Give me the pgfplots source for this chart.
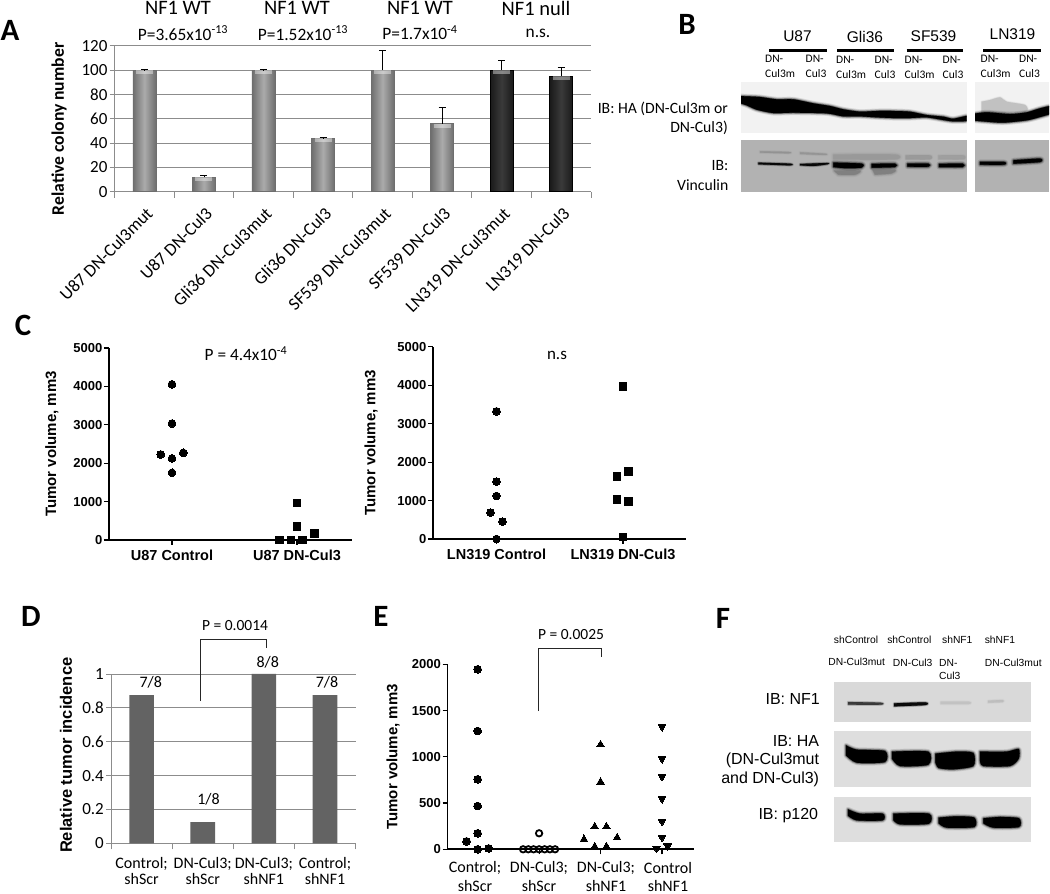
\documentclass[border=0pt]{standalone}
\usepackage{fontspec}
\usepackage{pgfplots}
\pgfplotsset{compat=1.18}
\setmainfont{Carlito}
\newfontfamily\lib{Liberation Sans}
\newcommand\fs[1]{\fontsize{#1}{#1}\selectfont}
\definecolor{gridg}{HTML}{8C8C8C}
\definecolor{barlight}{HTML}{ABABAB}
\definecolor{baredge}{HTML}{6E6E6E}
\definecolor{bardark}{HTML}{3A3A3A}
\definecolor{dbar}{HTML}{636363}
\newcommand\band[2][black]{%
 \addplot[fill=#1,draw=#1,line width=5pt,opacity=.10,line join=round,smooth,tension=.4] coordinates {#2} -- cycle;
 \addplot[fill=#1,draw=#1,line width=3.2pt,opacity=.2,line join=round,smooth,tension=.4] coordinates {#2} -- cycle;
 \addplot[fill=#1,draw=#1,line width=1.6pt,opacity=.4,line join=round,smooth,tension=.4] coordinates {#2} -- cycle;
 \addplot[fill=#1,draw=none,smooth,tension=.4] coordinates {#2} -- cycle;
}
\newcommand\tband[2][black]{%
 \addplot[fill=#1,draw=#1,line width=2.4pt,opacity=.15,line join=round,smooth,tension=.4] coordinates {#2} -- cycle;
 \addplot[fill=#1,draw=#1,line width=1.2pt,opacity=.3,line join=round,smooth,tension=.4] coordinates {#2} -- cycle;
 \addplot[fill=#1,draw=none,opacity=.9,smooth,tension=.4] coordinates {#2} -- cycle;
}
\newcommand\lightbar[1]{\addplot[ybar,bar width=23pt,left color=baredge,right color=baredge,middle color=barlight,draw=baredge,line width=.6pt] coordinates {#1};}
\newcommand\darkbar[1]{\addplot[ybar,bar width=23pt,left color=black!90,right color=black!90,middle color=bardark,draw=black,line width=.6pt] coordinates {#1};}
\pgfplotsset{
 every axis/.append style={scale only axis,anchor=south west},
 blot/.style={hide axis,y dir=reverse,axis background/.style={fill=#1}},
 common/.style={
  /pgf/number format/assume math mode=true,
  /pgf/number format/1000 sep={},
 },
 prism/.style={
  common,axis lines=left,axis line style={-,draw=gridg,line width=.8pt},
  ymajorgrids,grid style={draw=gridg,line width=.8pt},
  major tick style={draw=gridg,line width=.8pt},minor tick style={draw=gridg,line width=.8pt},
  major y tick style={draw=gridg,line width=.8pt},major x tick style={draw=none},
  tick align=outside,major tick length=5pt,minor tick length=6pt,
 },
 scat/.style={
  common,axis lines=left,axis line style={-,black,line width=1.6pt},clip=false,
  tick style={black,line width=1.1pt},tick align=outside,major tick length=5pt,
  yticklabel style={font=\lib\bfseries\fs{13},inner sep=1.5pt},
  xticklabel style={font=\lib\bfseries\fs{14.5},inner sep=1pt,yshift=-4pt},
 },
 dots/.style={only marks,mark=*,mark size=3.9pt,mark options={fill=black,draw=black,line width=0pt}},
 squares/.style={only marks,mark=square*,mark size=3.7pt,mark options={fill=black,draw=black,line width=0pt}},
}
\begin{document}
\begin{tikzpicture}[x=1pt,y=1pt]
\path[use as bounding box] (0,0) rectangle (1050,894);

%% Panel A
\begin{axis}[prism,at={(114.6pt,702.3pt)},width=476.4pt,height=146pt,
 xmin=.5,xmax=8.5,ymin=0,ymax=120,ytick={0,20,...,120},
 xtick={1,...,8},minor xtick={.5,1.5,...,8.5},
 xticklabels={U87 DN-Cul3mut,U87 DN-Cul3,Gli36 DN-Cul3mut,Gli36 DN-Cul3,SF539 DN-Cul3mut,SF539 DN-Cul3,LN319 DN-Cul3mut,LN319 DN-Cul3},
 x tick label style={font=\fs{17.8},rotate=45,anchor=north east,inner sep=1pt,xshift=-5pt,yshift=-6pt},
 y tick label style={font=\fs{17},inner sep=2pt},
 ylabel={Relative colony number},
 every axis y label/.style={at={(axis description cs:-.1167,.43)},rotate=90,anchor=center,font=\bfseries\fs{17.6}},
 clip=false]
 \lightbar{(1,100)}
 \lightbar{(2,12)}
 \lightbar{(3,100)}
 \lightbar{(4,44)}
 \lightbar{(5,100)}
 \lightbar{(6,56)}
 \darkbar{(7,100)}
 \darkbar{(8,95)}
 \addplot[draw=none,mark=none,error bars/.cd,y dir=minus,y fixed=3.5,error mark=none,
   error bar style={line width=17pt,draw=white,opacity=.4}]
   coordinates {(1,100)(2,12)(3,100)(4,44)(5,100)(6,56)(7,100)(8,95)};
 \addplot[draw=none,mark=none,error bars/.cd,y dir=plus,y explicit,error mark=-,
   error bar style={black,line width=.8pt},error mark options={rotate=90,black,line width=.8pt,mark size=3.5pt}]
   coordinates {(1,100)+-(0,.4)(2,12)+-(0,1)(3,100)+-(0,.4)(4,44)+-(0,.4)(5,100)+-(0,16)(6,56)+-(0,13)(7,100)+-(0,8)(8,95)+-(0,7)};
\end{axis}

%% Panel C left
\begin{axis}[scat,at={(109pt,354pt)},width=243pt,height=192pt,
 xmin=.496,xmax=2.44,ymin=0,ymax=5000,ytick={0,1000,...,5000},
 xtick={1,2},xticklabels={U87 Control,U87 DN-Cul3},
 ylabel={Tumor volume, mm3},
 every axis y label/.style={at={(axis description cs:-.235,.5)},rotate=90,anchor=center,font=\lib\bfseries\fs{15}}]
 \addplot[dots] coordinates {(1,4055)(1,3033)(.91,2227)(1,2123)(1.09,2270)(1,1750)};
 \addplot[squares] coordinates {(2,970)(2,347)(2.14,173)(1.86,0)(1.952,0)(2.044,0)};
\end{axis}

%% Panel C right
\begin{axis}[scat,at={(433pt,355pt)},width=253pt,height=192.3pt,
 xmin=.498,xmax=2.498,ymin=0,ymax=5000,ytick={0,1000,...,5000},
 xtick={1,2},xticklabels={LN319 Control,LN319 DN-Cul3},
 ylabel={Tumor volume, mm3},
 every axis y label/.style={at={(axis description cs:-.245,.5)},rotate=90,anchor=center,font=\lib\bfseries\fs{15}}]
 \addplot[dots] coordinates {(1,3319)(1,1490)(1,1118)(1,0)(.953,685)(1.047,450)};
 \addplot[squares] coordinates {(2,3960)(2,50)(1.953,1620)(2.044,1760)(1.953,1030)(2.044,970)};
\end{axis}

%% Panel D
\begin{axis}[prism,at={(111pt,50.7pt)},width=244.6pt,height=169.3pt,
 xmin=.5,xmax=4.5,ymin=0,ymax=1,ytick={0,.2,.4,.6,.8,1},
 xtick={1,...,4},minor xtick={.5,1.5,...,4.5},
 xticklabels={{Control;\\shScr},{DN-Cul3;\\shScr},{DN-Cul3;\\shNF1},{Control;\\shNF1}},
 x tick label style={font=\fs{16},align=center,anchor=north,yshift=-6pt},
 y tick label style={font=\fs{17},inner sep=2pt},
 ylabel={Relative tumor incidence},
 every axis y label/.style={at={(axis description cs:-.184,.52)},rotate=90,anchor=center,font=\lib\bfseries\fs{16.5}},
 clip=false]
 \addplot[ybar,bar width=24.6pt,fill=dbar,draw=none] coordinates {(1,.875)(2,.125)(3,1)(4,.875)};
\end{axis}

%% Panel E
\begin{axis}[scat,at={(447.5pt,44.7pt)},width=246.5pt,height=185pt,
 xmin=.51,xmax=4.52,ymin=0,ymax=2000,ytick={0,500,...,2000},
 xtick={1,2,3,4},xticklabels={},
 ylabel={Tumor volume, mm3},
 every axis y label/.style={at={(axis description cs:-.221,.5)},rotate=90,anchor=center,font=\lib\bfseries\fs{15}}]
 \addplot[dots] coordinates {(1,1946)(1,1279)(1,757)(1,468)(1,173)(1,0)(.82,86)(1.18,10)};
 \addplot[only marks,mark=o,mark size=3.2pt,mark options={draw=black,line width=1.8pt,fill=white}]
   coordinates {(2,173)(1.74,0)(1.825,0)(1.91,0)(2,0)(2.09,0)(2.175,0)(2.26,0)};
 \addplot[only marks,mark=triangle*,mark size=4.4pt,mark options={fill=black,draw=black,line width=0pt}]
   coordinates {(3,1131)(3,728)(2.905,245)(3.095,245)(2.73,108)(3.27,126)(2.905,29)(3.095,29)};
 \addplot[only marks,mark=triangle*,mark size=4.4pt,mark options={fill=black,draw=black,line width=0pt,rotate=180}]
   coordinates {(4,1326)(4,980)(4,786)(4,548)(4,303)(4,130)(3.91,11)(4.09,36)};
\end{axis}

%% Blots of panel B (axes in 3x crop units)
\begin{axis}[blot={black!5},at={(741pt,761.3pt)},width=225.67pt,height=51pt,xmin=543,xmax=1220,ymin=245,ymax=398]
 \band{(530,288)(560,289)(600,291)(650,298)(700,298)(760,310)(810,318)(850,328)(900,335)(950,333)(1000,333)(1050,335)(1100,345)(1150,350)(1180,356)(1230,346)(1230,362)(1180,364)(1150,360)(1100,352)(1050,354)(1000,354)(950,352)(900,349)(850,349)(800,340)(700,338)(640,339)(590,329)(560,316)(530,306)}
\end{axis}
\begin{axis}[blot={black!5},at={(975pt,761.3pt)},width=74pt,height=51pt,xmin=1245,xmax=1467,ymin=245,ymax=398]
 \tband[black!25]{(1265,305)(1290,300)(1320,292)(1340,305)(1395,315)(1395,335)(1265,340)}
 \band{(1235,342)(1280,337)(1350,342)(1400,337)(1440,325)(1480,317)(1480,338)(1440,351)(1400,361)(1330,368)(1280,365)(1235,361)}
\end{axis}
\begin{axis}[blot={black!30},at={(741pt,702.3pt)},width=225.67pt,height=51.4pt,xmin=543,xmax=1220,ymin=421,ymax=575]
 \band[black!40]{(820,464)(1005,464)(1005,478)(820,478)}
 \tband[black!40]{(1037,466)(1110,466)(1110,478)(1037,478)}
 \tband[black!38]{(1135,466)(1210,466)(1210,478)(1135,478)}
 \tband[black!43]{(600,454)(686,456)(686,460)(600,458)}
 \tband[black!42]{(720,457)(795,461)(795,465)(720,462)}
 \band[black!50]{(822,512)(900,512)(885,524)(835,524)}
 \band[black!50]{(938,510)(1005,510)(995,520)(945,524)}
 \tband{(595,488)(690,491)(690,496)(595,493)}
 \tband{(720,492)(802,489)(802,493)(760,498)(720,496)}
 \band{(820,488)(905,491)(905,503)(850,504)(820,501)}
 \band{(935,492)(1005,491)(1005,501)(935,503)}
 \band{(1042,491)(1105,491)(1105,500)(1042,500)}
 \band{(1137,492)(1208,491)(1208,501)(1137,501)}
\end{axis}
\begin{axis}[blot={black!30},at={(975pt,702.3pt)},width=74pt,height=51.4pt,xmin=1245,xmax=1467,ymin=421,ymax=575]
 \band{(1260,486)(1332,486)(1332,494)(1260,494)}
 \band{(1360,481)(1440,476)(1440,486)(1360,491)}
\end{axis}

%% Blots of panel F (axes in 3x crop units)
\begin{axis}[blot={black!15},at={(834pt,172.3pt)},width=196.67pt,height=39.33pt,xmin=402,xmax=992,ymin=217,ymax=335]
 \tband[black!24]{(722,275)(806,275)(806,282)(722,282)}
 \tband[black!26]{(864,272)(908,270)(908,276)(864,278)}
 \tband[black!80]{(444,276)(542,278)(542,284)(444,284)}
 \tband{(582,280)(676,277)(676,285)(582,289)}
\end{axis}
\begin{axis}[blot={black!13},at={(834pt,107pt)},width=196.67pt,height=56pt,xmin=402,xmax=992,ymin=362,ymax=530]
 \band{(438,405)(470,418)(555,422)(555,455)(470,457)(438,435)}
 \band{(576,424)(685,424)(685,463)(600,467)(576,445)}
 \band{(706,430)(770,424)(820,428)(820,467)(760,477)(716,473)(706,455)}
 \band{(840,424)(920,424)(956,416)(956,445)(930,467)(850,467)(840,450)}
\end{axis}
\begin{axis}[blot={black!13},at={(834pt,51.67pt)},width=196.67pt,height=45pt,xmin=402,xmax=992,ymin=562,ymax=697]
 \band{(444,598)(480,611)(548,611)(548,631)(470,631)(444,617)}
 \band{(580,611)(687,611)(687,641)(600,643)(580,630)}
 \band{(716,623)(770,619)(823,623)(823,651)(740,653)(716,640)}
 \band{(850,625)(900,621)(957,625)(957,651)(880,653)(850,640)}
\end{axis}

%% Text and brackets, in picture pixels
\begin{axis}[hide axis,at={(0pt,0pt)},width=1050pt,height=894pt,xmin=0,xmax=1050,ymin=0,ymax=894,y dir=reverse,clip=false,
 nodes={inner sep=0pt,anchor=center}]
 \node[font=\bfseries\fs{31}] at (axis cs:10,30) {A};
 \node[font=\bfseries\fs{31}] at (axis cs:687,24) {B};
 \node[font=\bfseries\fs{31}] at (axis cs:23,325) {C};
 \node[font=\bfseries\fs{31}] at (axis cs:31,616) {D};
 \node[font=\bfseries\fs{31}] at (axis cs:381,616) {E};
 \node[font=\bfseries\fs{31}] at (axis cs:723,618) {F};
 % Panel A headings
 \foreach \x/\t in {178/NF1 WT,297/NF1 WT,420/NF1 WT,536/NF1 null}
  {\edef\tmp{\noexpand\node[font=\noexpand\fs{20.5}] at (axis cs:\x,8) {\t};}\tmp}
 \node[font=\fs{17.4}] at (axis cs:183,33) {P=3.65x10\textsuperscript{-13}};
 \node[font=\fs{17.4}] at (axis cs:303,33) {P=1.52x10\textsuperscript{-13}};
 \node[font=\fs{17.4}] at (axis cs:420,33) {P=1.7x10\textsuperscript{-4}};
 \node[font=\fs{17.4}] at (axis cs:538,33) {n.s.};
 % Panel B labels
 \node[font=\lib\fs{15.5}] at (axis cs:797.5,36.5) {U87};
 \node[font=\lib\fs{15.5}] at (axis cs:865,36.5) {Gli36};
 \node[font=\lib\fs{15.5}] at (axis cs:933.5,36.5) {SF539};
 \node[font=\lib\fs{15.5}] at (axis cs:1012.5,34.5) {LN319};
 \addplot[black,line width=3.3pt] coordinates {(769,50.7)(826.7,50.7)};
 \addplot[black,line width=3.3pt] coordinates {(837.3,50.7)(894.3,50.7)};
 \addplot[black,line width=3.3pt] coordinates {(906.7,50.7)(963.3,50.7)};
 \addplot[black,line width=3.3pt] coordinates {(983.3,50.7)(1040.7,50.7)};
 \foreach \x/\y/\t in {765/58.5/DN-,765/74/Cul3m,805.5/58.5/DN-,805.5/74/Cul3,836/59.5/DN-,836/75/Cul3m,874.5/59.5/DN-,874.5/75/Cul3,904.5/60/DN-,904.5/75/Cul3m,942.5/60/DN-,942.5/75/Cul3,980.5/58.5/DN-,980.5/74/Cul3m,1019/58.5/DN-,1019/74/Cul3}
  {\edef\tmp{\noexpand\node[font=\noexpand\fs{11.5},anchor=west] at (axis cs:\x,\y) {\t};}\tmp}
 \node[font=\fs{15.7},anchor=east] at (axis cs:728,109) {IB: HA (DN-Cul3m or};
 \node[font=\fs{15.7},anchor=east] at (axis cs:728,127.5) {DN-Cul3)};
 \node[font=\fs{15.7},anchor=east] at (axis cs:728.5,166) {IB:};
 \node[font=\fs{15.7},anchor=east] at (axis cs:728.5,185) {Vinculin};
 % Panel C notes
 \node[font=\fs{17.3}] at (axis cs:246,354) {P = 4.4x10\textsuperscript{-4}};
 \node[font=\fs{17}] at (axis cs:557,355) {n.s};
 % Panel D notes
 \node[font=\fs{16}] at (axis cs:150.7,682) {7/8};
 \node[font=\fs{16}] at (axis cs:208.5,799) {1/8};
 \node[font=\fs{16}] at (axis cs:267.7,662) {8/8};
 \node[font=\fs{16}] at (axis cs:327,682) {7/8};
 \node[font=\fs{15.5}] at (axis cs:235,625.7) {P = 0.0014};
 \addplot[black!85,line width=.8pt] coordinates {(200.4,701)(200.4,639.3)(266.4,639.3)(266.4,647.7)};
 % Panel E notes
 \node[font=\fs{15.5}] at (axis cs:571,635) {P = 0.0025};
 \addplot[black!85,line width=.8pt] coordinates {(538,711)(538,648)(601,648)(601,656.7)};
 \foreach \x/\a/\b in {475/Control;/shScr,539/DN-Cul3;/shScr,606/DN-Cul3;/shNF1,668/Control/shNF1}
  {\edef\tmp{\noexpand\node[font=\noexpand\fs{16}] at (axis cs:\x,868) {\a}; \noexpand\node[font=\noexpand\fs{16}] at (axis cs:\x,886) {\b};}\tmp}
 % Panel F labels
 \foreach \x/\y/\t in {856/640/shControl,909.3/640/shControl,957.3/640/shNF1,1000/640/shNF1,856.7/662.3/DN-Cul3mut,912.7/663.3/DN-Cul3,1013.3/663.3/DN-Cul3mut}
  {\edef\tmp{\noexpand\node[font=\noexpand\lib\noexpand\fs{10.3}] at (axis cs:\x,\y) {\t};}\tmp}
 \node[font=\lib\fs{10.3},anchor=west] at (axis cs:939,663.3) {DN-};
 \node[font=\lib\fs{10.3},anchor=west] at (axis cs:939,676) {Cul3};
 \node[font=\lib\fs{16},anchor=east] at (axis cs:820,699.3) {IB: NF1};
 \node[font=\lib\fs{16},anchor=east] at (axis cs:819.3,740.7) {IB: HA};
 \node[font=\lib\fs{16},anchor=east] at (axis cs:819.3,760) {(DN-Cul3mut};
 \node[font=\lib\fs{16},anchor=east] at (axis cs:819.3,779) {and DN-Cul3)};
 \node[font=\lib\fs{16},anchor=east] at (axis cs:818.3,815.7) {IB: p120};
\end{axis}
\end{tikzpicture}
\end{document}
